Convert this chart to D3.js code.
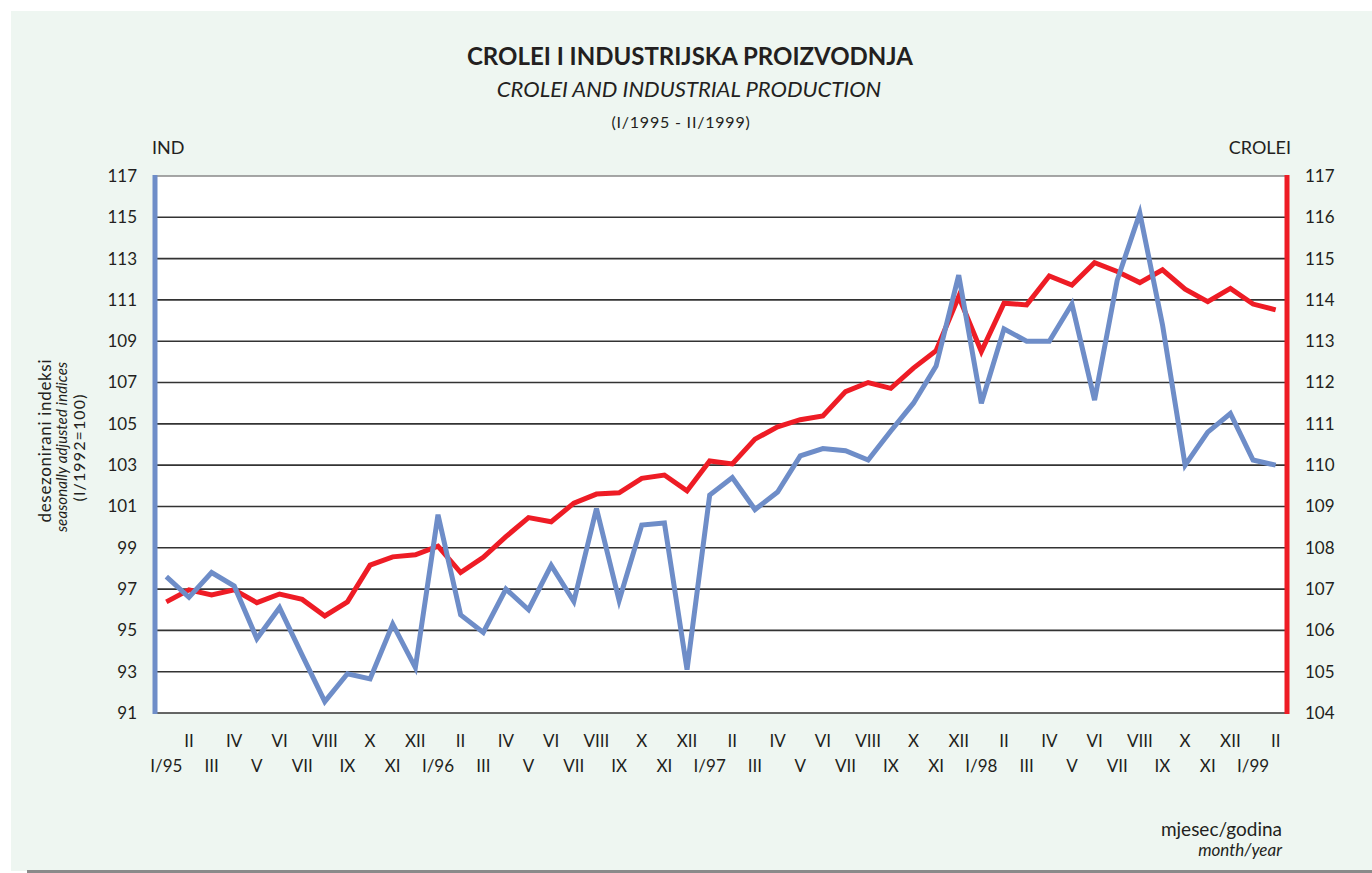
<!DOCTYPE html>
<html>
<head>
<meta charset="utf-8">
<script src="https://cdn.jsdelivr.net/npm/d3@7"></script>
<style>
  body { margin: 0; background: #fff; }
  svg { display: block; font-family: Lato, 'Open Sans', sans-serif; }
</style>
</head>
<body>
<div id="chart"></div>
<script>
// month labels, I/1995 .. II/1999
const months = [
  'I/95','II','III','IV','V','VI','VII','VIII','IX','X','XI','XII',
  'I/96','II','III','IV','V','VI','VII','VIII','IX','X','XI','XII',
  'I/97','II','III','IV','V','VI','VII','VIII','IX','X','XI','XII',
  'I/98','II','III','IV','V','VI','VII','VIII','IX','X','XI','XII',
  'I/99','II'
];

// industrial production, left axis
const ind = [
  97.6, 96.6, 97.8, 97.15, 94.6, 96.1, 93.8, 91.55, 92.9, 92.65, 95.3, 93.2,
  100.6, 95.75, 94.9, 97.0, 96.0, 98.15, 96.4, 100.9, 96.45, 100.1, 100.2, 93.1,
  101.55, 102.4, 100.85, 101.7, 103.45, 103.8, 103.7, 103.25, 104.65, 106.0, 107.8, 112.2,
  106.0, 109.6, 109.0, 109.0, 110.8, 106.15, 111.95, 115.2, 109.8, 103.0, 104.6, 105.5,
  103.25, 103.0
];

// CROLEI, right axis
const crolei = [
  106.69, 106.98, 106.86, 106.98, 106.67, 106.88, 106.75, 106.35, 106.69, 107.58, 107.78, 107.83,
  108.04, 107.4, 107.77, 108.27, 108.73, 108.63, 109.08, 109.3, 109.33, 109.68, 109.76, 109.38,
  110.1, 110.03, 110.63, 110.93, 111.1, 111.19, 111.78, 112.0, 111.86, 112.35, 112.77, 114.08,
  112.75, 113.92, 113.88, 114.58, 114.36, 114.9, 114.69, 114.42, 114.73, 114.26, 113.96, 114.28,
  113.9, 113.76
];

const leftTicks = d3.range(91, 118, 2);
const rightTicks = d3.range(104, 118, 1);

const W = 1372, H = 873;
const plot = { left: 155, right: 1287, top: 176, bottom: 713 };
const ink = '#231f20';

const svg = d3.select('#chart').append('svg')
  .attr('width', W).attr('height', H);

// background panel and shadow line at the bottom
svg.append('rect').attr('x', 11).attr('y', 11).attr('width', W - 11).attr('height', 860)
  .attr('fill', '#eef6f1');
svg.append('rect').attr('x', 27).attr('y', 870).attr('width', W - 27).attr('height', 3)
  .attr('fill', '#8a8a8a');

const x = d3.scaleBand().domain(d3.range(months.length))
  .range([plot.left, plot.right]);
const yL = d3.scaleLinear().domain([91, 117]).range([plot.bottom, plot.top]);
const yR = d3.scaleLinear().domain([104, 117]).range([plot.bottom, plot.top]);
const cx = (i) => x(i) + x.bandwidth() / 2;

svg.append('rect')
  .attr('x', plot.left).attr('y', plot.top)
  .attr('width', plot.right - plot.left).attr('height', plot.bottom - plot.top)
  .attr('fill', '#fff');

// gridlines
svg.append('g').selectAll('line')
  .data(leftTicks)
  .join('line')
  .attr('x1', plot.left).attr('x2', plot.right)
  .attr('y1', (d) => yL(d)).attr('y2', (d) => yL(d))
  .attr('stroke', (d) => d === 117 ? '#888' : '#333')
  .attr('stroke-width', 1.6);

// left axis labels
svg.append('g').selectAll('text')
  .data(leftTicks)
  .join('text')
  .attr('x', 137).attr('y', (d) => yL(d))
  .attr('dy', '0.35em')
  .attr('text-anchor', 'end')
  .attr('font-size', 17).attr('fill', ink)
  .text((d) => d);

// right axis labels
svg.append('g').selectAll('text')
  .data(rightTicks)
  .join('text')
  .attr('x', 1305).attr('y', (d) => yR(d))
  .attr('dy', '0.35em')
  .attr('font-size', 17).attr('fill', ink)
  .text((d) => d);

// coloured axis bars
svg.append('line')
  .attr('x1', plot.left).attr('x2', plot.left)
  .attr('y1', plot.top - 1).attr('y2', plot.bottom + 1)
  .attr('stroke', '#6e8dc8').attr('stroke-width', 5);
svg.append('line')
  .attr('x1', plot.right).attr('x2', plot.right)
  .attr('y1', plot.top - 1).attr('y2', plot.bottom + 1)
  .attr('stroke', '#ee1c25').attr('stroke-width', 5);

// month labels, two staggered rows
svg.append('g').selectAll('text')
  .data(months)
  .join('text')
  .attr('x', (d, i) => cx(i))
  .attr('y', (d, i) => i % 2 === 0 ? 766 : 741)
  .attr('dy', '0.35em')
  .attr('text-anchor', 'middle')
  .attr('font-size', 17).attr('fill', ink)
  .text((d) => d);

// series
const lineL = d3.line().x((d, i) => cx(i)).y((d) => yL(d));
const lineR = d3.line().x((d, i) => cx(i)).y((d) => yR(d));

svg.append('path').datum(crolei)
  .attr('d', lineR)
  .attr('fill', 'none').attr('stroke', '#ee1c25')
  .attr('stroke-width', 5).attr('stroke-linejoin', 'miter');

svg.append('path').datum(ind)
  .attr('d', lineL)
  .attr('fill', 'none').attr('stroke', '#6e8dc8')
  .attr('stroke-width', 5).attr('stroke-linejoin', 'miter');

// titles
const title = svg.append('g').attr('fill', ink).attr('text-anchor', 'middle');
title.append('text').attr('x', 690).attr('y', 65)
  .attr('font-size', 24).attr('font-weight', 'bold')
  .text('CROLEI I INDUSTRIJSKA PROIZVODNJA');
title.append('text').attr('x', 689).attr('y', 97)
  .attr('font-size', 22).attr('font-style', 'italic')
  .text('CROLEI AND INDUSTRIAL PRODUCTION');
title.append('text').attr('x', 681).attr('y', 128)
  .attr('font-size', 16).attr('letter-spacing', 0.8)
  .text('(I/1995 - II/1999)');

svg.append('text').attr('x', 152).attr('y', 154)
  .attr('font-size', 18).attr('fill', ink).text('IND');
svg.append('text').attr('x', 1291).attr('y', 154)
  .attr('font-size', 18).attr('fill', ink).attr('text-anchor', 'end').text('CROLEI');

// y axis title
const yt = svg.append('g').attr('fill', ink).attr('text-anchor', 'middle');
yt.append('text').attr('transform', 'translate(51,441) rotate(-90)')
  .attr('font-size', 17).attr('textLength', 163).attr('lengthAdjust', 'spacing')
  .text('desezonirani indeksi');
yt.append('text').attr('transform', 'translate(67,447) rotate(-90)')
  .attr('font-size', 15).attr('font-style', 'italic')
  .attr('textLength', 170).attr('lengthAdjust', 'spacing')
  .text('seasonally adjusted indices');
yt.append('text').attr('transform', 'translate(85,448) rotate(-90)')
  .attr('font-size', 16).attr('textLength', 107).attr('lengthAdjust', 'spacing')
  .text('(I/1992=100)');

// x axis title
svg.append('text').attr('x', 1282).attr('y', 836)
  .attr('font-size', 19).attr('fill', ink).attr('text-anchor', 'end')
  .text('mjesec/godina');
svg.append('text').attr('x', 1282).attr('y', 856)
  .attr('font-size', 17).attr('font-style', 'italic').attr('fill', ink).attr('text-anchor', 'end')
  .text('month/year');
</script>
</body>
</html>
